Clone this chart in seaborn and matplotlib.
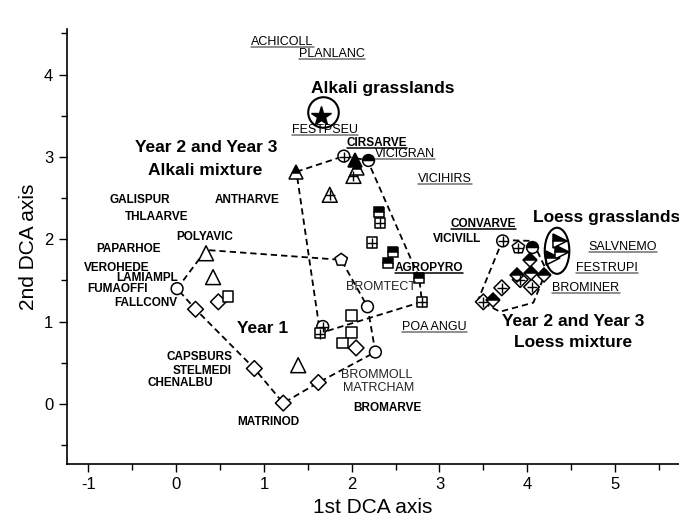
import numpy as np
import pandas as pd
import matplotlib.pyplot as plt
import seaborn as sns
from matplotlib.patches import Ellipse

# ---- sample scores (1st, 2nd DCA axis) ----
# Year 1 (open symbols)
y1_tri = [(0.34, 1.83), (0.42, 1.54), (1.39, 0.47)]
y1_circ = [(0.01, 1.40), (2.18, 1.18), (2.27, 0.63)]
y1_diam = [(0.22, 1.15), (0.48, 1.24), (0.89, 0.43), (1.22, 0.01), (1.62, 0.26), (2.05, 0.68)]
y1_sq = [(0.59, 1.31), (2.00, 1.07), (2.00, 0.87), (1.89, 0.74)]
y1_pent = [(1.88, 1.75)]
y1_ccirc = [(1.67, 0.94)]
y1_gsq = [(1.64, 0.86)]

# Year 2 and 3, alkali mixture
alk_htri = [(1.37, 2.82), (2.06, 2.87)]
alk_ftri = [(2.04, 2.96)]
alk_ctri = [(2.02, 2.77), (1.75, 2.54)]
alk_ccirc = [(1.91, 3.01)]
alk_hcirc = [(2.18, 2.96)]
alk_hsq = [(2.31, 2.33), (2.47, 1.85), (2.41, 1.71), (2.77, 1.53)]
alk_gsq = [(2.32, 2.20), (2.23, 1.96), (2.80, 1.24)]

# Year 2 and 3, loess mixture
loe_ccirc = [(3.72, 1.98)]
loe_cpent = [(3.90, 1.90)]
loe_hcirc = [(4.05, 1.90)]
loe_hdiam = [(4.03, 1.75), (3.88, 1.57), (4.04, 1.59), (4.19, 1.56), (3.61, 1.26)]
loe_cdiam = [(3.71, 1.41), (3.50, 1.24), (4.05, 1.42), (3.92, 1.51)]

# reference grasslands
alkali_grass = [(1.65, 3.50)]
loess_grass = [(4.37, 1.98), (4.40, 1.84), (4.29, 1.77)]

# dashed hulls
hull_year1 = [(0.01, 1.40), (0.34, 1.87), (1.88, 1.75), (2.18, 1.18), (2.27, 0.63),
              (1.62, 0.26), (1.22, 0.01), (0.89, 0.43), (0.22, 1.15), (0.01, 1.40)]
hull_alkali = [(1.37, 2.82), (1.91, 3.01), (2.18, 2.96), (2.77, 1.53), (2.80, 1.24),
               (1.64, 0.86), (1.37, 2.82)]
hull_loess = [(3.72, 1.99), (4.06, 1.98), (4.22, 1.62), (4.07, 1.23), (3.69, 1.12),
              (3.44, 1.26), (3.72, 1.99)]

# species labels: (name, x, y)
weeds = [("GALISPUR", -0.41, 2.48), ("THLAARVE", -0.22, 2.27), ("POLYAVIC", 0.33, 2.03),
         ("PAPARHOE", -0.54, 1.88), ("VEROHEDE", -0.68, 1.65), ("LAMIAMPL", -0.33, 1.53),
         ("FUMAOFFI", -0.67, 1.40), ("FALLCONV", -0.35, 1.23), ("CAPSBURS", 0.27, 0.57),
         ("STELMEDI", 0.30, 0.40), ("CHENALBU", 0.05, 0.26), ("MATRINOD", 1.05, -0.22),
         ("BROMARVE", 2.41, -0.05), ("ANTHARVE", 0.81, 2.48), ("VICIVILL", 3.20, 2.00)]
sown_bold = [("CIRSARVE", 2.29, 3.17), ("AGROPYRO", 2.88, 1.65), ("CONVARVE", 3.50, 2.19)]
grass_spp = [("ACHICOLL", 1.21, 4.40), ("PLANLANC", 1.78, 4.25), ("FESTPSEU", 1.70, 3.33),
             ("VICIGRAN", 2.61, 3.03), ("VICIHIRS", 3.06, 2.73), ("POA ANGU", 2.94, 0.94),
             ("SALVNEMO", 5.09, 1.91), ("FESTRUPI", 4.91, 1.65), ("BROMINER", 4.67, 1.41)]
other_spp = [("BROMTECT", 2.33, 1.42), ("BROMMOLL", 2.28, 0.35), ("MATRCHAM", 2.31, 0.19)]
groups = [("Alkali grasslands", 2.35, 3.83), ("Year 2 and Year 3", 0.34, 3.11),
          ("Alkali mixture", 0.33, 2.83), ("Year 1", 0.98, 0.91),
          ("Loess grasslands", 4.90, 2.27), ("Year 2 and Year 3", 4.52, 1.00),
          ("Loess mixture", 4.52, 0.74)]

sns.set_style("ticks")
plt.rcParams['font.family'] = ['Liberation Sans', 'DejaVu Sans']
plt.rcParams['axes.unicode_minus'] = False
for k in ['text.color', 'axes.labelcolor', 'xtick.color', 'ytick.color', 'axes.edgecolor']:
    plt.rcParams[k] = 'black'

fig, ax = plt.subplots(figsize=(6.79, 5.24), dpi=100)
fig.subplots_adjust(left=0.098, right=1.0, bottom=0.1145, top=0.944)

# hulls
for hull in [hull_year1, hull_alkali, hull_loess]:
    hx, hy = zip(*hull)
    sns.lineplot(x=list(hx), y=list(hy), sort=False, estimator=None, color='black',
                 lw=1.3, ax=ax, zorder=1)
    ax.lines[-1].set_dashes([3.5, 2.2])

# open symbols through seaborn
open_sets = {'tri': y1_tri, 'circ': y1_circ, 'diam': y1_diam, 'sq': y1_sq,
             'pent': y1_pent + loe_cpent, 'ccirc': y1_ccirc + alk_ccirc + loe_ccirc,
             'gsq': y1_gsq + alk_gsq, 'ctri': alk_ctri, 'cdiam': loe_cdiam}
rows = []
for kind, pts in open_sets.items():
    for x, y in pts:
        rows.append({'x': x, 'y': y, 'kind': kind})
df = pd.DataFrame(rows)
mk = {'tri': '^', 'circ': 'o', 'diam': 'D', 'sq': 's', 'pent': 'p', 'ccirc': 'o',
      'gsq': 's', 'ctri': '^', 'cdiam': 'D'}
sz = {'tri': 115, 'circ': 72, 'diam': 64, 'sq': 62, 'pent': 88, 'ccirc': 72,
      'gsq': 56, 'ctri': 115, 'cdiam': 64}
sns.scatterplot(data=df, x='x', y='y', style='kind', markers=mk, size='kind', sizes=sz,
                color='white', edgecolor='black', linewidth=1.1, legend=False,
                ax=ax, zorder=3)

# crosses inside the crossed symbols
crossed = df[df['kind'].isin(['pent', 'ccirc', 'gsq', 'ctri', 'cdiam'])]
crossed = crossed[~((crossed['kind'] == 'pent') & (crossed['x'] < 3))]
ax.scatter(crossed['x'], crossed['y'] - 0.005, marker='+', s=55, color='black',
           linewidths=1.0, zorder=4)

# half filled and filled symbols
def half(pts, marker, ms, fs='top'):
    px, py = zip(*pts)
    ax.plot(px, py, ls='none', marker=marker, ms=ms, fillstyle=fs, mfc='black',
            mfcalt='white', mec='black', mew=1.1, zorder=3)

half(alk_htri, '^', 10.5)
half(alk_ftri, '^', 10.5, 'full')
half(alk_hcirc, 'o', 8.5)
half(alk_hsq, 's', 7.5)
half(loe_hcirc, 'o', 8.5)
half(loe_hdiam, 'D', 7.5)

# reference grasslands
ax.plot(*zip(*alkali_grass), ls='none', marker='*', ms=15, color='black', zorder=3)
ax.plot([1.67], [3.54], ls='none', marker='o', ms=22, mfc='none', mec='black',
        mew=1.5, zorder=3)
half(loess_grass, '>', 10, 'top')
ax.add_patch(Ellipse((4.34, 1.86), 0.28, 0.56, fill=False, ec='black', lw=1.5, zorder=3))

# labels
under = []
for name, x, y in weeds:
    ax.text(x, y, name, ha='center', va='center', fontsize=8.5, fontweight='bold')
for name, x, y in sown_bold:
    t = ax.text(x, y, name, ha='center', va='center', fontsize=8.5, fontweight='bold')
    under.append((t, 'black'))
for name, x, y in grass_spp:
    t = ax.text(x, y, name, ha='center', va='center', fontsize=9)
    under.append((t, '#707070'))
for name, x, y in other_spp:
    ax.text(x, y, name, ha='center', va='center', fontsize=9, color='#222222')
for name, x, y in groups:
    ax.text(x, y, name, ha='center', va='center', fontsize=12.5, fontweight='bold')

ax.set_xlim(-1.25, 5.73)
ax.set_ylim(-0.73, 4.55)
ax.set_xticks(np.arange(-1, 6, 1))
ax.set_yticks(np.arange(0, 5, 1))
ax.set_xticks(np.arange(-1, 6, 0.5), minor=True)
ax.set_yticks(np.arange(-0.5, 4.6, 0.5), minor=True)
ax.tick_params(which='major', direction='out', length=6, width=1, labelsize=12)
ax.tick_params(which='minor', direction='out', length=4, width=1)
ax.set_xlabel('1st DCA axis', fontsize=15)
ax.set_ylabel('2nd DCA axis', fontsize=15)
sns.despine(ax=ax)
for s in ['left', 'bottom']:
    ax.spines[s].set_linewidth(1.2)

# underlines below the underlined species names
fig.canvas.draw()
inv = ax.transData.inverted()
for t, c in under:
    bb = t.get_window_extent()
    (x0, y0), (x1, _) = inv.transform([[bb.x0, bb.y0 + 1], [bb.x1, bb.y0 + 1]])
    ax.plot([x0, x1], [y0, y0], color=c, lw=1.1, clip_on=False, zorder=2)

plt.savefig('out.png', dpi=100)
